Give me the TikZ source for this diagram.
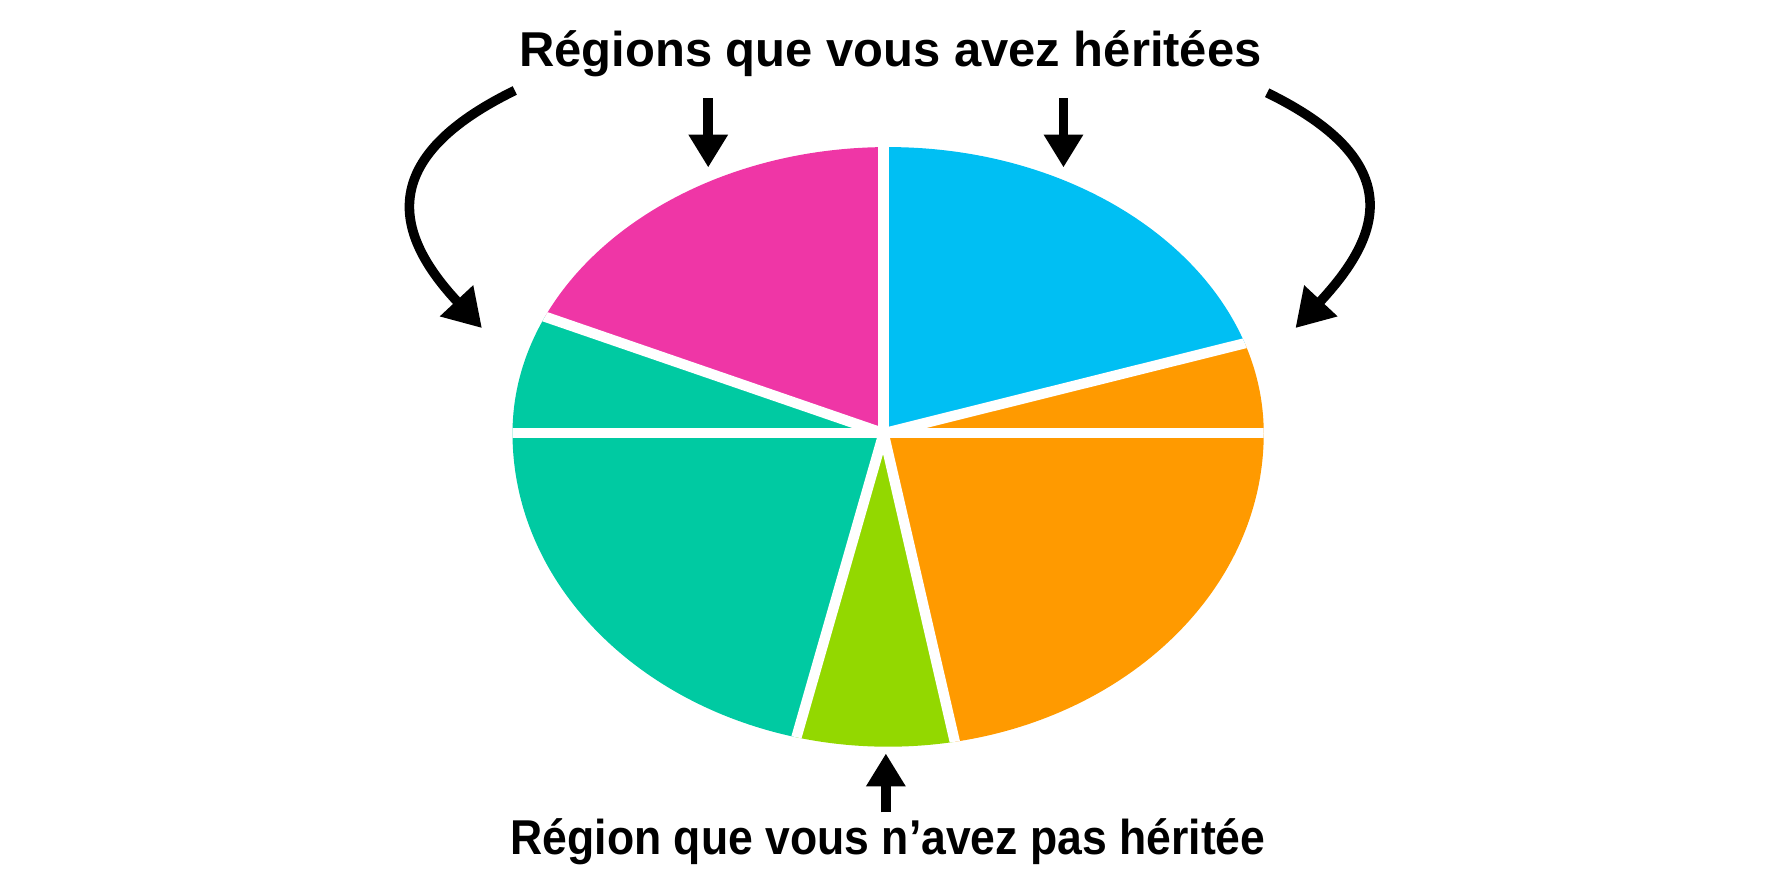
\documentclass[tikz,border=0pt]{standalone}
\usepackage{fontspec}
\setmainfont{Liberation Sans}
\usetikzlibrary{arrows.meta, calc, positioning}

\definecolor{piepink}{RGB}{239,54,166}
\definecolor{pieblue}{RGB}{0,191,243}
\definecolor{pieteal}{RGB}{0,202,162}
\definecolor{pieorange}{RGB}{255,154,0}
\definecolor{piegreen}{RGB}{147,216,0}

\begin{document}
\begin{tikzpicture}[x=0.01cm,y=0.01cm,align=center]
\tikzstyle{caption}=[font=\fontsize{12.3}{14}\selectfont\bfseries,anchor=base,inner sep=0pt]
\tikzstyle{pointer}=[-{Triangle[width=0.33cm,length=0.29cm]},line width=2.4pt,black]
\tikzstyle{bigpointer}=[pointer,-{Triangle[width=0.38cm,length=0.33cm]}]
\tikzstyle{gap}=[white,line width=2.6pt]

\useasboundingbox (0,0) rectangle (1568,784);

\coordinate (c) at (781,401);

% the pie
\begin{scope}
\clip (1117,401) arc[start angle=0,end angle=180,x radius=332,y radius=253]
  arc[start angle=180,end angle=360,x radius=332,y radius=277] -- cycle;
\foreach \a/\b/\col in {-77/14/pieorange, 14/90/pieblue, 90/161/piepink, 161/254/pieteal, 254/283/piegreen}
  \fill[\col] (c) -- ($(c)+(\a:600)$) -- ($(c)+(\b:600)$) -- cycle;
\foreach \a in {0,14,90,161,180,254,283}
  \draw[gap] (c) -- ($(c)+(\a:600)$);
\end{scope}

\node[caption] (inherited) at (787,725) {Régions que vous avez héritées};
\node[caption] (notinherited) at (785,29) {\scalebox{0.91}[1]{Région que vous n’avez pas héritée}};

\coordinate (lstart) at (455,704);
\coordinate (lend) at (426,494);
\coordinate (rstart) at (1120,702);
\coordinate (rend) at (1145,494);
\coordinate (pinktop) at (626,697);
\coordinate (pinktip) at (626,636);
\coordinate (bluetop) at (940,697);
\coordinate (bluetip) at (940,636);
\coordinate (greenbot) at (783,66);
\coordinate (greentip) at (783,118);

\draw[bigpointer] (lstart) to[out=206,in=133,out distance=1.45cm,in distance=1.05cm] (lend);
\draw[bigpointer] (rstart) to[out=-26,in=47,out distance=1.45cm,in distance=1.05cm] (rend);
\draw[pointer] (pinktop) -- (pinktip);
\draw[pointer] (bluetop) -- (bluetip);
\draw[pointer] (greenbot) -- (greentip);
\end{tikzpicture}
\end{document}
